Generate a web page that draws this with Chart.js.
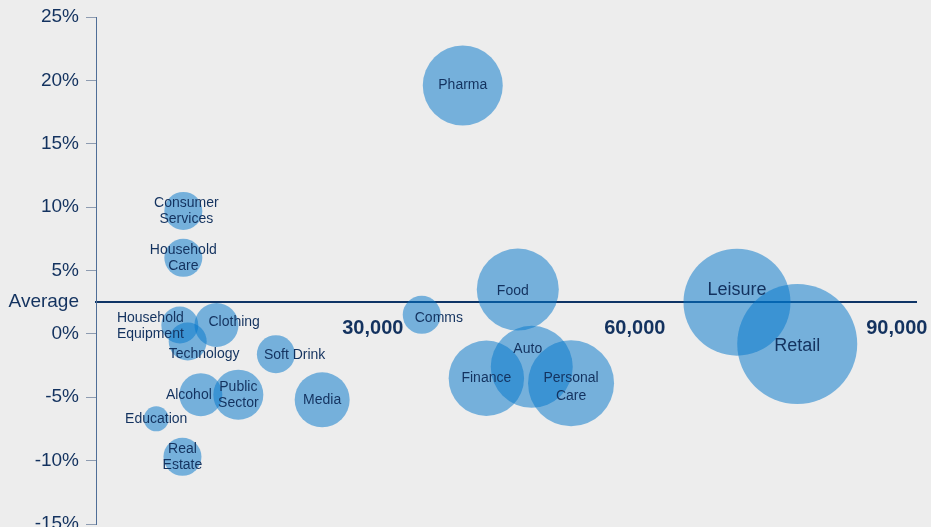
<!DOCTYPE html>
<html lang="en">
<head>
<meta charset="UTF-8">
<title>Sector growth vs size</title>
<script src="https://cdn.jsdelivr.net/npm/chart.js@4.4.0/dist/chart.umd.min.js"></script>
<style>
    body { margin: 0; background: #ededed; }
    .chart-wrap { position: relative; width: 931px; height: 527px; }
</style>
</head>
<body>
<div class="chart-wrap"><canvas id="sectorChart"></canvas></div>
<script>
// data
const sectors = ['Pharma', 'Consumer\nServices', 'Household\nCare', 'Household\nEquipment', 'Technology',
    'Clothing', 'Soft Drink', 'Alcohol', 'Public\nSector', 'Education', 'Real\nEstate', 'Media',
    'Comms', 'Food', 'Finance', 'Auto', 'Personal\nCare', 'Leisure', 'Retail'];
const sizeValues = [40300, 8300, 8300, 7900, 8800, 12100, 18900, 10300, 14600, 5200, 8200, 24200,
    35600, 46600, 43000, 48200, 52700, 71700, 78600];
const growthValues = [19.6, 9.7, 6.0, 0.7, -0.6, 0.7, -1.6, -4.8, -4.8, -6.7, -9.7, -5.2,
    1.5, 3.5, -3.5, -2.6, -3.9, 2.5, -0.8];
const bubbleRadius = [40, 19, 19, 18.5, 19, 22, 19, 21.5, 25, 12.5, 19, 27.5,
    19, 41, 37.7, 41, 43, 53.5, 60];
const average = 2.5;
const yTicks = [-15, -10, -5, 0, 2.5, 5, 10, 15, 20, 25];
const xTicks = [30000, 60000, 90000];

const navy = '#13325f';
const fontFamily = '"Liberation Sans", Arial, sans-serif';

// where each label sits relative to its bubble: [align, dx, dy]
const labelPlace = {
    'Consumer\nServices': ['center', 3, 0],
    'Household\nEquipment': ['right', 4, 1],
    'Technology': ['left', -19, 13],
    'Clothing': ['left', -8, -3],
    'Soft Drink': ['left', -12, 1],
    'Alcohol': ['right', 11, 0],
    'Comms': ['left', -7, 3],
    'Food': ['center', -5, 2],
    'Auto': ['center', -4, -18],
    'Personal\nCare': ['center', 0, 4],
    'Leisure': ['center', 0, -12],
    'Retail': ['center', 0, 2]
};
const bigLabels = ['Leisure', 'Retail'];

const bubbleLabels = {
    id: 'bubbleLabels',
    afterDatasetsDraw(chart) {
        const ctx = chart.ctx;
        const meta = chart.getDatasetMeta(0);
        ctx.save();
        ctx.fillStyle = navy;
        ctx.textBaseline = 'middle';
        meta.data.forEach((pt, i) => {
            const name = sectors[i];
            const [align, dx, dy] = labelPlace[name] || ['center', 0, 0];
            const big = bigLabels.includes(name);
            ctx.font = (big ? 18 : 14) + 'px ' + fontFamily;
            ctx.textAlign = align;
            const lines = name.split('\n');
            const lh = bubbleRadius[i] > 40 ? 18 : 16;
            lines.forEach((ln, k) => {
                ctx.fillText(ln, pt.x + dx, pt.y + dy + (k - (lines.length - 1) / 2) * lh);
            });
        });
        ctx.restore();
    }
};

const points = sectors.map((s, i) => ({ x: sizeValues[i], y: growthValues[i], r: bubbleRadius[i] }));

new Chart(document.getElementById('sectorChart'), {
    type: 'bubble',
    data: {
        datasets: [{
            data: points,
            backgroundColor: 'rgba(2, 117, 203, 0.51)',
            borderWidth: 0,
            hoverBorderWidth: 0
        }]
    },
    options: {
        responsive: true,
        maintainAspectRatio: false,
        animation: false,
        events: [],
        layout: { autoPadding: false, padding: { top: 17, right: 15, bottom: 3, left: 0 } },
        plugins: { legend: { display: false }, tooltip: { enabled: false } },
        scales: {
            x: {
                type: 'linear',
                min: -1700,
                max: 92200,
                position: { y: average },
                afterBuildTicks: s => { s.ticks = xTicks.map(v => ({ value: v })); },
                afterFit: s => { s.paddingLeft = 0; s.paddingRight = 0; },
                border: { color: '#0f3566', width: 2 },
                grid: { drawOnChartArea: false, drawTicks: false },
                ticks: {
                    padding: 14,
                    color: navy,
                    font: { family: fontFamily, size: 20, weight: 'bold' },
                    callback: v => v.toLocaleString('en-US')
                }
            },
            y: {
                min: -15,
                max: 25,
                afterBuildTicks: s => { s.ticks = yTicks.map(v => ({ value: v })); },
                afterFit: s => { s.width = 96; s.paddingTop = 0; s.paddingBottom = 0; },
                border: { color: '#4f6e97', width: 1 },
                grid: {
                    drawOnChartArea: false,
                    tickLength: 10,
                    color: c => (c.tick && c.tick.value === average) ? 'rgba(0,0,0,0)' : '#8d9bb0'
                },
                ticks: {
                    padding: 7,
                    color: navy,
                    font: { family: fontFamily, size: 19 },
                    callback: v => v === average ? 'Average' : v + '%'
                }
            }
        }
    },
    plugins: [bubbleLabels]
});
</script>
</body>
</html>
